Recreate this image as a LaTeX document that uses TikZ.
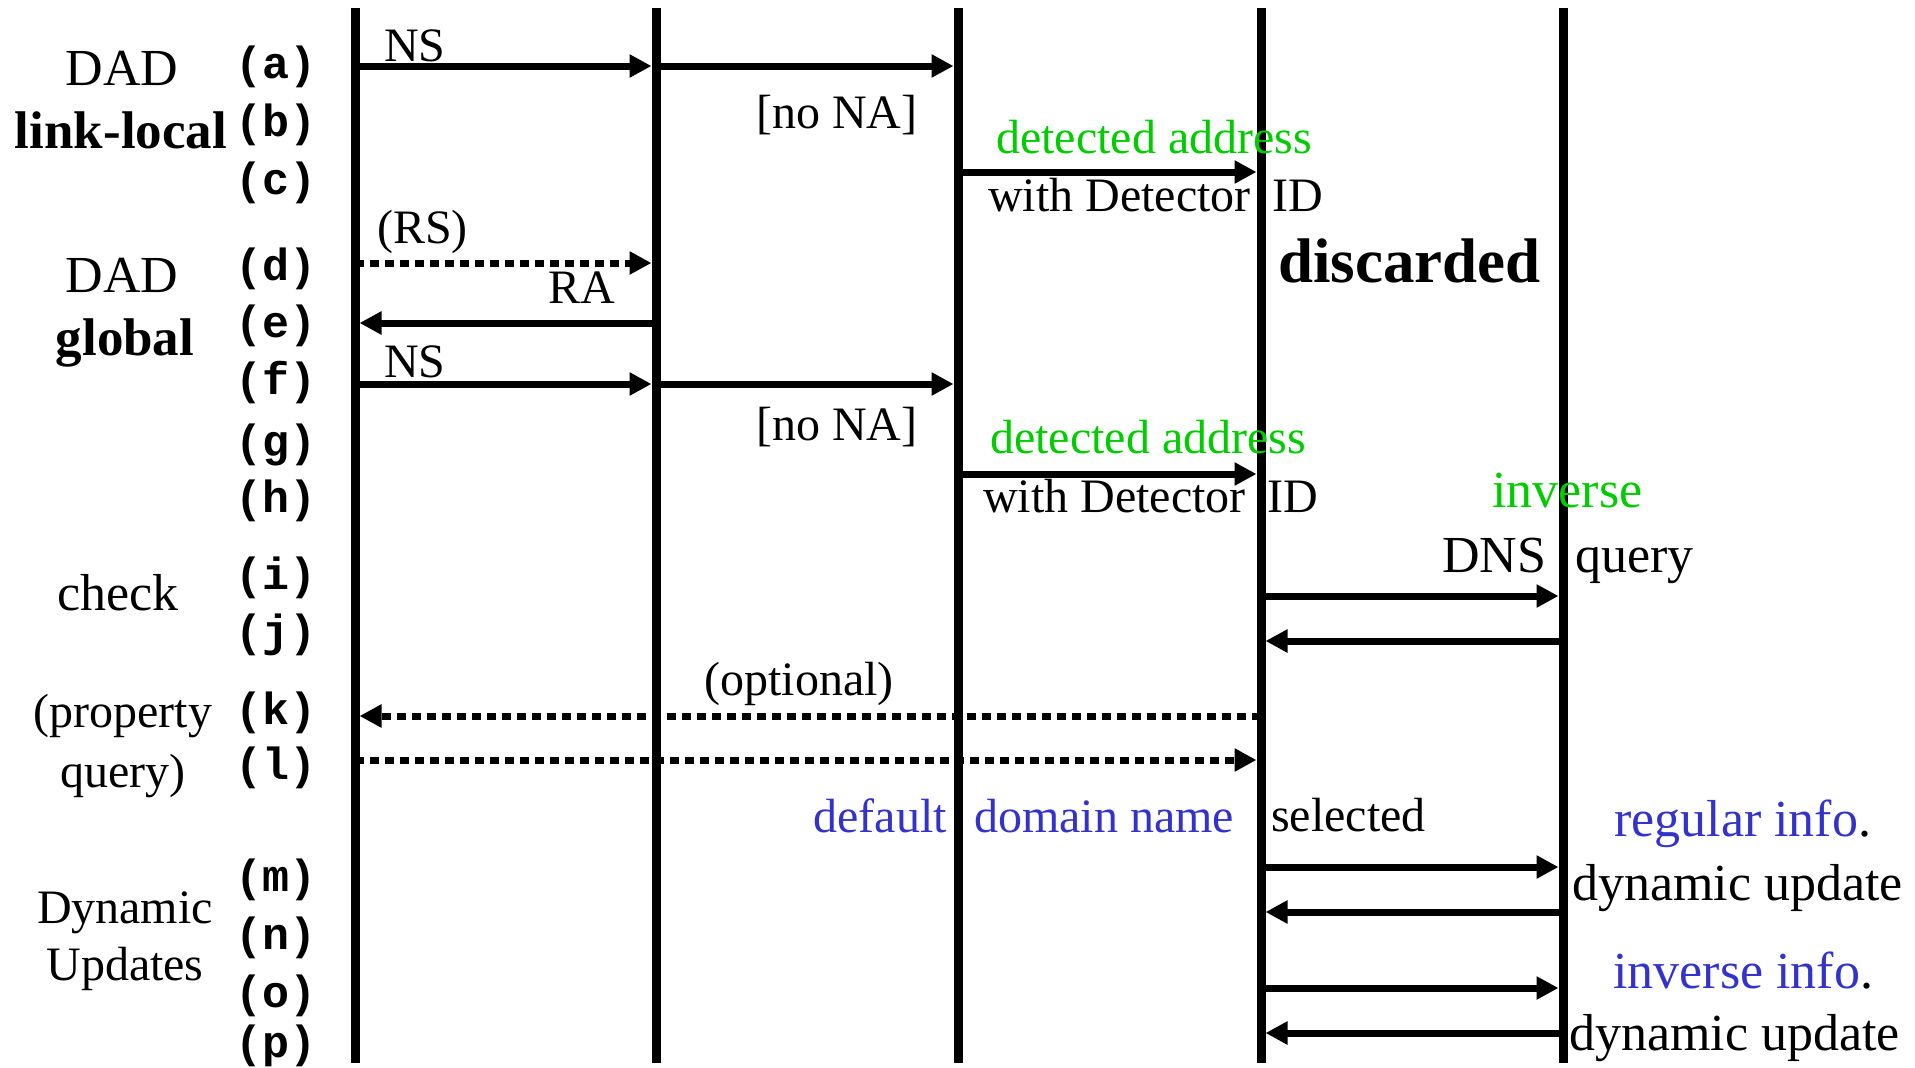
\documentclass[tikz,border=0pt]{standalone}
\usepackage{fontspec}
\setmainfont{Liberation Serif}
\setmonofont{Liberation Mono}
\usetikzlibrary{arrows.meta}
\definecolor{dgreen}{RGB}{0,204,0}
\definecolor{dblue}{RGB}{51,51,204}
\begin{document}
\begin{tikzpicture}[x=1pt,y=-1pt,
 life/.style={line width=9pt},
 msg/.style={line width=7pt,-{Triangle[length=22pt,width=22pt]},shorten >=4.5pt},
 optmsg/.style={msg,dash pattern=on 9pt off 6pt},
 tA/.style={inner sep=0pt,font=\fontsize{48}{56}\selectfont},
 tB/.style={inner sep=0pt,font=\fontsize{52}{60}\selectfont},
 tBold/.style={inner sep=0pt,font=\fontsize{53}{60}\selectfont\bfseries},
 rowlab/.style={inner sep=0pt,font=\fontsize{45}{50}\selectfont\ttfamily\bfseries},
]
\useasboundingbox (0,0) rectangle (1915,1068);
% lifelines
\foreach \i/\x in {1/355,2/656,3/958,4/1261,5/1563}{
  \coordinate (T\i) at (\x,8);
  \coordinate (B\i) at (\x,1063);
  \draw[life] (T\i) -- (B\i);
}
% rows
\coordinate (ra) at (0,66);
\coordinate (rc) at (0,172);
\coordinate (rd) at (0,263);
\coordinate (re) at (0,323);
\coordinate (rf) at (0,384);
\coordinate (rh) at (0,474);
\coordinate (ri) at (0,596);
\coordinate (rj) at (0,641);
\coordinate (rk) at (0,716);
\coordinate (rl) at (0,760);
\coordinate (rm) at (0,867);
\coordinate (rn) at (0,912);
\coordinate (ro) at (0,988);
\coordinate (rp) at (0,1033);
% messages
\draw[msg] (T1 |- ra) -- (T2 |- ra);
\draw[msg] (T2 |- ra) -- (T3 |- ra);
\draw[msg] (T3 |- rc) -- (T4 |- rc);
\draw[optmsg] (T1 |- rd) -- (T2 |- rd);
\draw[msg] (T2 |- re) -- (T1 |- re);
\draw[msg] (T1 |- rf) -- (T2 |- rf);
\draw[msg] (T2 |- rf) -- (T3 |- rf);
\draw[msg] (T3 |- rh) -- (T4 |- rh);
\draw[msg] (T4 |- ri) -- (T5 |- ri);
\draw[msg] (T5 |- rj) -- (T4 |- rj);
\draw[optmsg] (T4 |- rk) -- (T1 |- rk);
\draw[optmsg] (T1 |- rl) -- (T4 |- rl);
\draw[msg] (T4 |- rm) -- (T5 |- rm);
\draw[msg] (T5 |- rn) -- (T4 |- rn);
\draw[msg] (T4 |- ro) -- (T5 |- ro);
\draw[msg] (T5 |- rp) -- (T4 |- rp);
% row labels
\foreach \l/\y in {a/67,b/125,c/183,d/269,e/326,f/383,g/445,h/501,i/578,j/635,k/713,l/768,m/880,n/938,o/996,p/1046}{
  \node[rowlab] (lab\l) at (276,\y) {(\l)};
}
% phase labels
\node[tB,anchor=base] (dad1) at (122,85) {DAD};
\node[tBold,anchor=base] (ll) at (121,148) {link-local};
\node[tB,anchor=base] (dad2) at (122,292) {DAD};
\node[tBold,anchor=base] (gl) at (125,355) {global};
\node[tB,anchor=base] (chk) at (118,610) {check};
\node[tA,anchor=base] (prop) at (123,727) {(property};
\node[tA,anchor=base] (qry) at (123,787) {query)};
\node[tA,anchor=base] (dyn) at (125,923) {Dynamic};
\node[tA,anchor=base] (upd) at (125,980) {Updates};
% message labels
\node[tA,anchor=base west] (ns1) at (384,61) {NS};
\node[tA,anchor=base] (nona1) at (837,128) {[no NA]};
\node[tA,anchor=base,text=dgreen] (det1) at (1154,153) {detected address};
\node[tA,anchor=base west] (wd1) at (988,211) {with Detector\hspace{22pt}ID};
\node[inner sep=0pt,anchor=base west,font=\fontsize{63}{70}\selectfont\bfseries] (disc) at (1278,282) {discarded};
\node[tA,anchor=base west] (rs) at (377,243) {(RS)};
\node[tA,anchor=base west] (ralab) at (548,303) {RA};
\node[tA,anchor=base west] (ns2) at (384,377) {NS};
\node[tA,anchor=base] (nona2) at (837,440) {[no NA]};
\node[tA,anchor=base,text=dgreen] (det2) at (1148,453) {detected address};
\node[tA,anchor=base west] (wd2) at (983,512) {with Detector\hspace{22pt}ID};
\node[tB,anchor=base west,text=dgreen] (inv) at (1492,507) {inverse};
\node[tB,anchor=base west] (dnsq) at (1442,572) {DNS\hspace{29pt}query};
\node[tA,anchor=base] (opt) at (799,695) {(optional)};
\node[tA,anchor=base east,text=dblue] (dflt) at (947,832) {default};
\node[tA,anchor=base west,text=dblue] (dom) at (974,832) {domain name};
\node[tA,anchor=base west] (sel) at (1271,831) {selected};
\node[tB,anchor=base west] (reg) at (1614,836) {\textcolor{dblue}{regular info}.};
\node[tB,anchor=base west] (du1) at (1572,900) {dynamic update};
\node[tB,anchor=base west] (invi) at (1613,988) {\textcolor{dblue}{inverse info}.};
\node[tB,anchor=base west] (du2) at (1569,1050) {dynamic update};
\end{tikzpicture}
\end{document}
